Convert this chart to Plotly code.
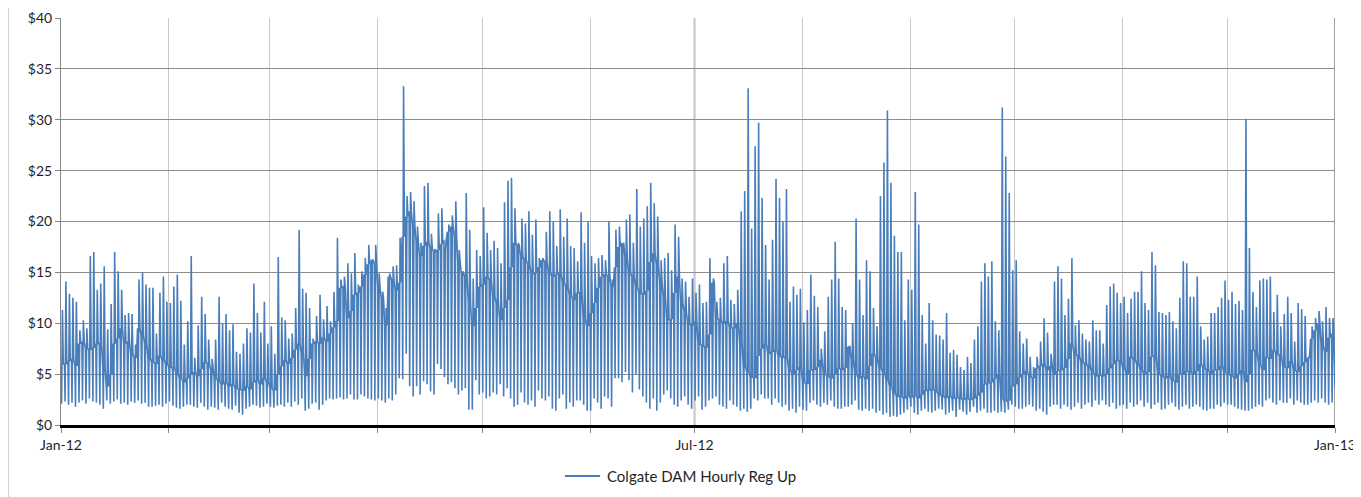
import pandas as pd
import plotly.graph_objects as go

# Daily values: daily peak, overnight low and the level the price settles at
daily_peak = [
    # Jan
    11.3, 14.1, 12.9, 12.5, 12.1, 9.3, 10.3, 9.5, 16.6, 17.0, 13.3, 13.9, 15.6, 9.4, 11.9, 17.0, 15.1, 13.3, 10.8,
    11.0, 10.9, 7.9, 14.3, 15.0, 13.8, 13.5, 13.5, 9.0, 13.0, 14.6, 12.1, 12.0, 13.6, 14.8, 12.2, 7.9, 10.2,
    # Feb - Mar
    16.6, 6.6, 9.8, 12.6, 10.9, 8.4, 6.5, 8.4, 12.6, 10.0, 10.9, 9.3, 9.9, 7.2, 7.0, 8.0, 9.5, 9.1, 13.9,
    11.0, 9.1, 12.1, 8.0, 9.7, 7.0, 16.5, 10.6, 10.3, 8.5, 9.0, 11.5, 19.2, 13.4, 13.0, 11.5, 8.5, 10.7,
    # Mar - Apr
    12.8, 10.4, 11.7, 10.2, 13.1, 18.4, 14.3, 14.6, 15.9, 14.9, 16.9, 13.8, 15.1, 16.4, 17.7, 16.2, 17.7, 14.9, 13.1,
    11.5, 14.9, 15.6, 15.7, 18.4, 33.3, 22.5, 22.9, 22.0, 19.5, 17.9, 23.5, 23.8, 18.8, 17.3, 20.8, 21.3, 17.2, 19.7,
    # Apr - May
    20.6, 22.0, 17.2, 15.1, 22.8, 19.2, 14.4, 17.2, 16.6, 21.4, 18.9, 17.2, 18.1, 17.4, 15.9, 21.9, 24.0, 24.3, 21.3,
    17.9, 20.3, 19.8, 21.0, 18.7, 20.2, 16.4, 16.4, 19.0, 21.0, 20.0, 17.6, 21.2, 18.5, 20.3, 17.6, 17.4, 16.1,
    # May - Jul
    20.9, 17.9, 20.0, 16.6, 15.9, 16.4, 16.7, 16.2, 20.0, 14.3, 19.2, 19.5, 17.7, 20.2, 20.7, 17.9, 23.2, 19.5, 20.3,
    21.5, 23.8, 21.8, 20.5, 16.2, 16.4, 16.9, 15.2, 19.7, 18.5, 14.4, 14.1, 12.6, 14.4, 13.0, 13.8, 12.0, 12.1, 16.4,
    # Jul - Aug
    14.4, 12.1, 12.5, 15.9, 16.6, 12.3, 11.9, 13.3, 21.0, 23.0, 33.1, 19.3, 27.4, 29.7, 22.3, 17.7, 14.3, 18.2, 24.2,
    22.3, 20.0, 23.2, 12.1, 13.6, 12.8, 13.4, 10.1, 11.3, 14.8, 12.7, 11.6, 7.5, 9.2, 12.6, 14.3, 18.0, 14.4,
    # Aug - Sep
    11.6, 11.3, 7.7, 10.0, 20.3, 14.3, 10.8, 16.2, 15.1, 11.5, 9.7, 22.5, 25.8, 30.9, 23.8, 18.6, 17.0, 17.0, 10.3,
    14.3, 13.3, 22.9, 19.7, 10.8, 8.0, 12.0, 10.3, 8.9, 8.8, 8.4, 11.0, 7.1, 7.4, 6.9, 5.7, 5.4, 6.7,
    # Sep - Oct
    6.1, 8.4, 9.7, 14.1, 15.9, 14.6, 16.1, 10.2, 9.3, 31.2, 26.4, 22.8, 15.2, 16.2, 9.2, 8.0, 8.5, 6.7, 5.7,
    6.7, 8.2, 10.5, 9.1, 7.0, 14.1, 15.6, 14.4, 10.8, 12.4, 16.4, 9.8, 10.3, 9.0, 8.4, 8.2, 10.3, 9.3, 9.3,
    # Oct - Nov
    8.0, 11.8, 13.6, 13.9, 13.0, 12.0, 12.6, 11.0, 12.4, 13.1, 13.1, 15.1, 12.0, 11.3, 17.0, 15.7, 11.1, 11.0, 10.8,
    11.1, 10.2, 9.5, 12.5, 16.1, 15.9, 12.6, 12.6, 14.6, 9.7, 8.4, 8.7, 11.0, 11.0, 11.6, 12.5, 14.2, 12.3,
    # Dec
    13.1, 11.9, 12.2, 11.3, 30.1, 17.4, 13.1, 11.6, 14.2, 14.4, 14.3, 14.6, 11.1, 12.8, 9.7,
    10.9, 12.6, 11.0, 8.2, 12.0, 11.4, 10.7, 6.7, 9.7, 10.5, 11.2, 10.2, 11.6, 10.5, 10.5,
]

daily_low = [
    2.1, 2.3, 2.0, 2.2, 1.8, 2.2, 2.4, 2.1, 2.6, 2.3, 2.2, 2.0, 1.6, 2.4, 2.1, 2.3, 2.5, 2.1, 2.2,
    2.0, 2.3, 2.2, 2.4, 2.1, 2.2, 1.8, 1.8, 1.9, 2.0, 1.8, 2.1, 2.3, 1.9, 1.7, 1.6, 1.8, 2.0,
    2.0, 1.8, 1.7, 2.2, 1.8, 1.5, 1.8, 1.7, 1.5, 2.2, 1.8, 1.6, 1.5, 1.9, 1.2, 1.0, 1.6, 1.8, 2.0,
    1.9, 1.7, 1.8, 2.1, 1.8, 1.7, 1.9, 2.0, 1.8, 2.2, 1.8, 2.3, 2.0, 2.6, 1.4, 1.6, 2.1, 2.2,
    1.5, 2.0, 2.4, 2.6, 2.5, 2.6, 2.7, 2.5, 2.6, 3.0, 2.5, 2.5, 3.0, 2.8, 2.6, 2.5, 2.4, 2.6, 2.4,
    2.2, 2.6, 2.4, 3.0, 4.6, 4.5, 7.0, 3.8, 2.8, 3.8, 3.0, 4.3, 4.0, 3.3, 3.0, 6.0, 5.5, 4.7, 4.0,
    4.2, 3.6, 3.0, 3.4, 3.6, 1.5, 1.5, 4.4, 3.0, 3.2, 2.6, 2.8, 3.2, 3.0, 4.0, 2.8, 3.6, 2.6, 1.8,
    2.0, 3.2, 2.2, 2.0, 2.4, 1.8, 3.4, 2.6, 2.4, 2.8, 1.6, 1.4, 2.6, 3.0, 1.6, 2.2, 1.8, 2.4,
    2.4, 2.0, 1.4, 1.4, 2.6, 2.2, 1.6, 2.8, 2.6, 1.8, 4.6, 4.6, 4.2, 5.2, 4.4, 3.2, 5.0, 3.5, 2.8,
    2.2, 1.6, 2.6, 1.4, 2.2, 3.0, 3.4, 2.6, 2.0, 1.8, 2.4, 2.8, 2.0, 1.6, 2.4, 2.8, 1.5, 1.8, 2.4,
    2.6, 2.8, 2.0, 1.8, 1.6, 2.4, 2.0, 1.8, 1.4, 1.6, 1.3, 1.6, 2.6, 2.4, 3.0, 2.6, 2.6, 2.0, 2.6,
    2.2, 1.8, 2.0, 1.4, 1.6, 1.2, 1.8, 1.5, 1.4, 2.2, 2.4, 2.0, 1.8, 2.2, 2.0, 2.4, 1.8, 1.6,
    1.6, 1.8, 1.8, 2.0, 2.4, 1.5, 1.4, 1.6, 1.4, 1.6, 1.2, 1.4, 1.0, 1.2, 0.8, 0.9, 0.8, 1.0, 1.2,
    1.5, 1.8, 1.2, 1.0, 1.4, 1.6, 1.3, 1.2, 1.4, 1.6, 1.5, 1.0, 1.2, 1.4, 0.8, 1.5, 1.3, 1.0,
    1.3, 1.8, 1.2, 1.4, 1.6, 1.2, 1.2, 1.4, 1.2, 1.3, 1.2, 1.5, 2.0, 1.8, 1.6, 1.6, 1.8, 2.0, 1.8,
    1.4, 1.6, 1.3, 1.0, 1.8, 2.0, 2.0, 1.6, 2.0, 1.8, 1.5, 1.8, 2.2, 1.6, 2.0, 2.2, 1.8, 2.4, 2.0,
    2.4, 2.0, 1.8, 2.2, 1.6, 1.9, 2.0, 1.6, 2.2, 1.8, 2.0, 2.4, 1.8, 2.2, 1.6, 2.0, 2.2, 1.5, 1.6,
    2.0, 2.2, 1.8, 1.5, 1.8, 2.0, 1.6, 1.8, 2.0, 1.8, 1.5, 1.4, 1.6, 1.6, 2.0, 1.8, 2.2, 2.0,
    2.0, 1.8, 1.6, 1.5, 1.4, 1.4, 1.6, 1.8, 2.0, 1.8, 2.4, 2.6, 2.2, 2.0, 2.4,
    2.2, 2.2, 2.6, 2.0, 2.4, 2.2, 2.0, 2.0, 2.2, 2.4, 2.2, 2.6, 2.2, 2.0, 2.2,
]

daily_mid = [
    6.0, 6.0, 6.3, 6.5, 5.8, 8.0, 8.2, 7.5, 7.4, 7.6, 8.0, 8.0, 5.5, 3.8, 5.0, 8.0, 8.5, 9.5, 8.0,
    8.2, 7.0, 6.6, 9.5, 8.8, 8.0, 6.5, 6.2, 6.0, 6.8, 6.4, 6.0, 5.6, 5.7, 5.0, 4.6, 4.2, 4.6,
    5.0, 5.2, 4.8, 5.5, 6.2, 6.0, 5.4, 4.6, 4.3, 4.0, 4.2, 3.8, 4.0, 3.6, 3.5, 3.4, 3.8, 3.5, 4.2,
    4.4, 4.0, 4.6, 4.2, 3.6, 3.4, 5.0, 5.8, 6.4, 6.0, 6.6, 7.4, 8.0, 7.0, 4.8, 6.5, 8.0, 8.2,
    8.0, 8.6, 8.2, 9.0, 9.6, 10.2, 13.5, 13.6, 10.5, 11.2, 12.8, 13.0, 13.6, 14.8, 15.8, 16.2, 15.8, 13.5, 12.4,
    9.8, 14.6, 14.2, 13.2, 14.0, 18.5, 20.5, 21.0, 19.5, 18.0, 16.6, 17.6, 18.0, 17.4, 17.0, 17.2, 17.8, 18.2, 19.0,
    19.5, 18.5, 16.0, 14.9, 14.6, 12.0, 9.7, 11.5, 13.6, 13.8, 14.6, 14.2, 12.6, 12.0, 10.3, 11.5, 12.3, 15.5, 17.9,
    17.6, 16.6, 16.2, 15.8, 14.9, 14.9, 15.5, 16.2, 16.0, 15.0, 14.6, 14.8, 14.9, 14.0, 13.6, 12.8, 12.3, 13.0,
    13.0, 10.5, 9.7, 11.0, 12.0, 13.5, 14.6, 14.8, 14.6, 13.6, 15.5, 17.5, 17.9, 16.5, 14.9, 14.6, 13.6, 13.0, 12.8,
    13.2, 16.0, 16.9, 15.8, 14.0, 12.5, 10.3, 10.4, 13.0, 14.6, 12.0, 11.2, 10.0, 9.8, 10.2, 8.0, 7.8, 7.6, 8.9,
    14.0, 10.5, 10.3, 10.0, 10.2, 9.6, 9.5, 10.0, 8.0, 5.7, 5.2, 4.7, 4.6, 6.8, 7.5, 8.0, 7.0, 7.2, 7.4,
    6.8, 6.6, 6.7, 5.4, 5.0, 5.4, 5.7, 4.2, 4.0, 5.4, 5.4, 5.7, 6.4, 5.0, 4.8, 4.6, 5.0, 5.6,
    5.4, 5.6, 7.7, 6.4, 5.0, 4.6, 4.8, 4.5, 5.8, 7.0, 6.6, 5.6, 5.2, 4.4, 3.8, 3.1, 2.8, 2.8, 2.6,
    2.8, 2.7, 2.9, 2.6, 3.0, 3.4, 3.4, 3.5, 3.3, 3.0, 2.8, 2.7, 2.8, 2.6, 2.7, 2.6, 2.5, 2.6,
    2.5, 2.6, 2.9, 3.2, 4.0, 4.1, 4.2, 4.6, 5.0, 2.6, 2.3, 2.4, 3.8, 4.0, 4.7, 5.0, 5.3, 4.8, 4.6,
    5.6, 5.8, 6.0, 5.4, 5.8, 5.0, 5.3, 5.4, 5.6, 6.5, 8.0, 7.0, 6.7, 6.2, 6.0, 5.8, 5.2, 4.8, 4.9,
    4.8, 5.0, 5.6, 6.0, 6.4, 6.2, 5.6, 5.0, 6.7, 6.4, 6.0, 5.4, 5.0, 5.2, 6.7, 6.8, 5.0, 4.8, 4.6,
    4.8, 4.4, 4.2, 5.0, 5.0, 5.3, 5.2, 5.0, 5.3, 6.0, 5.6, 5.4, 5.0, 5.4, 5.4, 5.8, 5.2, 5.0,
    4.8, 4.6, 5.0, 5.4, 4.2, 5.0, 7.4, 7.2, 6.0, 5.4, 6.7, 6.5, 7.4, 7.0, 6.8,
    5.7, 5.6, 6.3, 5.4, 5.2, 5.8, 6.2, 6.6, 8.5, 9.3, 10.0, 7.8, 7.2, 8.6, 9.0,
]

last_hour_value = 3.6
series_name = "Colgate DAM Hourly Reg Up"

month_starts = pd.date_range("2012-01-01", "2013-01-01", freq="MS")
tick_text = ["Jan-12", "", "", "", "", "", "Jul-12", "", "", "", "", "", "Jan-13"]

# Build the trace: settle level at midnight, overnight low, daily peak, back to settle level
days = pd.date_range("2012-01-01", periods=len(daily_peak), freq="D")
times, prices = [], []
for d, lo, hi, mid in zip(days, daily_low, daily_peak, daily_mid):
    times += [d, d + pd.Timedelta(hours=4), d + pd.Timedelta(hours=10), d + pd.Timedelta(hours=16)]
    prices += [mid, lo, hi, mid]
times.append(pd.Timestamp("2013-01-01"))
prices.append(last_hour_value)

line_color = "#4A7EBB"

fig = go.Figure()
fig.add_trace(
    go.Scatter(
        x=times,
        y=prices,
        mode="lines",
        line=dict(color=line_color, width=1.6),
        name=series_name,
        showlegend=False,
    )
)

# darker reference lines at Jul-12 and Jan-13
for d in ["2012-07-01", "2013-01-01"]:
    fig.add_shape(type="line", x0=d, x1=d, y0=0, y1=1, xref="x", yref="paper",
                  line=dict(color="#7f7f7f", width=1.5), layer="between")

# chart frame on the left
fig.add_shape(type="line", x0=-0.0416, x1=-0.0416, y0=-0.2, y1=1.1, xref="paper", yref="paper",
              line=dict(color="#a6a6a6", width=1))

# legend drawn by hand so it does not push the plot margins
fig.add_shape(type="line", x0=0.3956, x1=0.4231, y0=-0.1253, y1=-0.1253, xref="paper", yref="paper",
              line=dict(color=line_color, width=2))
fig.add_annotation(text=series_name, x=0.427, y=-0.1253, xref="paper", yref="paper",
                   xanchor="left", yanchor="middle", showarrow=False,
                   font=dict(size=15, color="#1f1f1f"))

# page body adds an 8px offset, so the figure is 8px smaller
fig.update_layout(
    width=1353,
    height=489,
    margin=dict(l=53, r=26, t=10, b=72),
    paper_bgcolor="white",
    plot_bgcolor="white",
    font=dict(family="Lato, Open Sans, sans-serif", size=14, color="#1f1f1f"),
    showlegend=False,
)

fig.update_xaxes(
    range=["2012-01-01", "2013-01-01"],
    tickmode="array",
    tickvals=month_starts,
    ticktext=tick_text,
    showgrid=True,
    gridcolor="#c8c8c8",
    gridwidth=1,
    showline=True,
    linecolor="black",
    linewidth=3,
    ticks="outside",
    ticklen=5,
    tickcolor="#868686",
    zeroline=False,
    automargin=False,
)
fig.update_yaxes(
    range=[0, 40],
    dtick=5,
    tickprefix="$",
    showgrid=True,
    gridcolor="#8c8c8c",
    gridwidth=1,
    showline=True,
    linecolor="#868686",
    linewidth=1,
    ticks="outside",
    ticklen=5,
    tickcolor="#868686",
    zeroline=False,
    automargin=False,
)

fig.write_html("out.html")
